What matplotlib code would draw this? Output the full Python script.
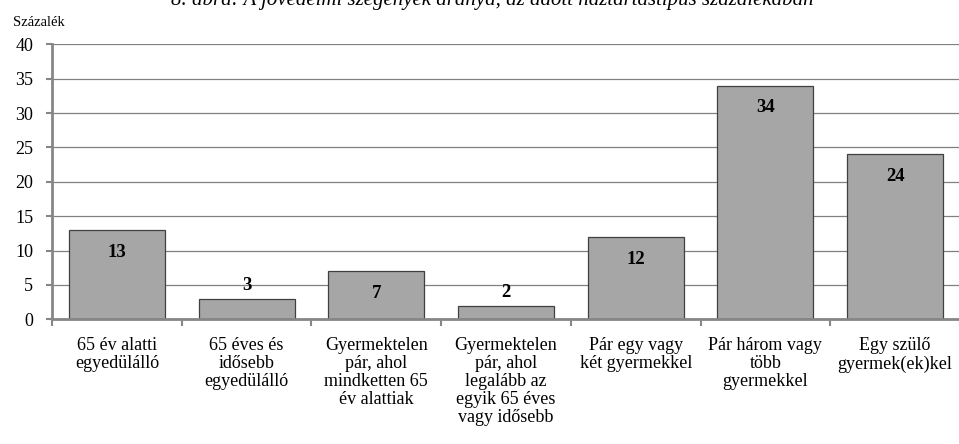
import matplotlib.pyplot as plt

plt.rcParams['font.family'] = ['Liberation Serif', 'DejaVu Serif']

kategoriak = ['65 év alatti\negyedülálló',
              '65 éves és\nidősebb\negyedülálló',
              'Gyermektelen\npár, ahol\nmindketten 65\név alattiak',
              'Gyermektelen\npár, ahol\nlegalább az\negyik 65 éves\nvagy idősebb',
              'Pár egy vagy\nkét gyermekkel',
              'Pár három vagy\ntöbb\ngyermekkel',
              'Egy szülő\ngyermek(ek)kel']
arany = [13, 3, 7, 2, 12, 34, 24]
y_ticks = [0, 5, 10, 15, 20, 25, 30, 35, 40]

fig = plt.figure(figsize=(9.59, 4.44), dpi=100)
ax = fig.add_axes([52/959, 0.2809, 908/959, 0.6193])

x = list(range(len(arany)))
ax.set_axisbelow(True)
ax.yaxis.grid(True, color='#808080', linewidth=0.9)
ax.bar(x, arany, width=0.74, color='#a6a6a6', edgecolor='#404040', linewidth=0.9)

for xi, v in zip(x, arany):
    if v >= 5:
        off = -16
    else:
        off = 9.5
    ax.annotate(str(v), (xi, v), xytext=(0, off), textcoords='offset points',
                ha='center', va='center', fontsize=13.5, fontweight='bold')

ax.set_xlim(-0.5, len(arany) - 0.5)
ax.set_ylim(0, 40)
ax.set_yticks(y_ticks)
ax.set_xticks(x)
ax.set_xticklabels(kategoriak, fontsize=13, linespacing=1.08)
ax.set_xticks([i - 0.5 for i in range(len(arany) + 1)], minor=True)
ax.tick_params(axis='x', which='major', length=0, pad=13)
ax.tick_params(axis='x', which='minor', length=5, width=1.5, color='#868686', direction='out')
ax.tick_params(axis='y', length=4.5, width=1.5, color='#868686', labelsize=13, pad=9)

for s in ['top', 'right']:
    ax.spines[s].set_visible(False)
for s in ['left', 'bottom']:
    ax.spines[s].set_color('#868686')
    ax.spines[s].set_linewidth(2)

fig.text(0.5136, 1 - 5/444, '8. ábra: A jövedelmi szegények aránya, az adott háztartástípus százalékában',
         ha='center', va='baseline', fontsize=15, style='italic')
fig.text(13/959, 1 - 26/444, 'Százalék', ha='left', va='baseline', fontsize=10.5)

plt.savefig('out.png', dpi=100)
